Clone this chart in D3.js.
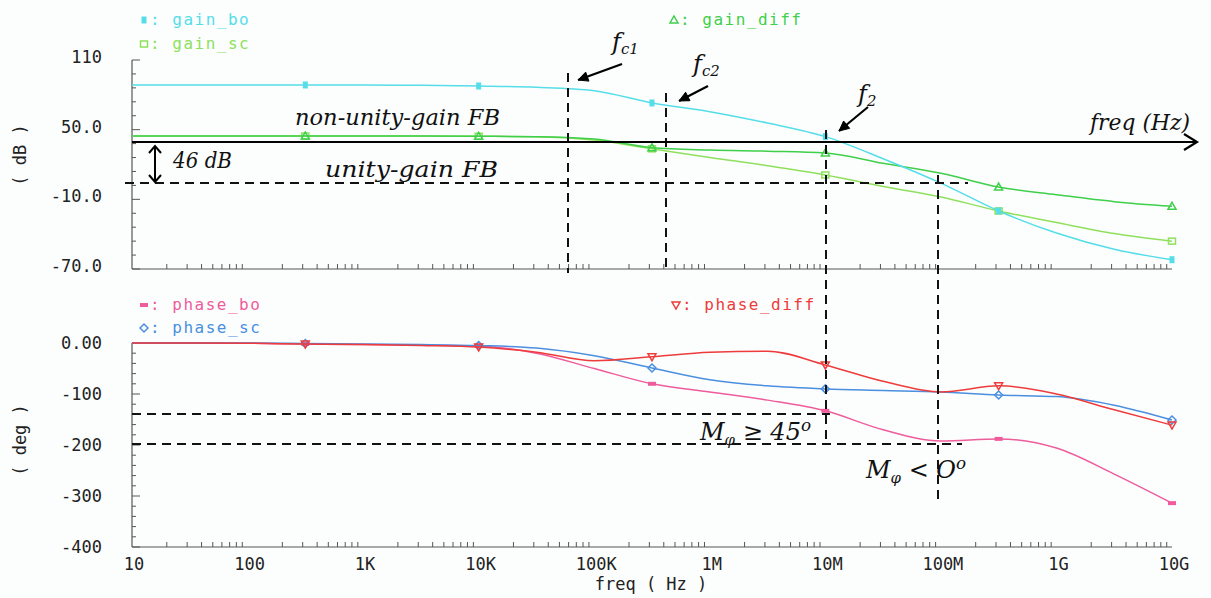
<!DOCTYPE html>
<html><head><meta charset="utf-8">
<script src="https://cdn.jsdelivr.net/npm/d3@7"></script>
<style>
html,body{margin:0;padding:0;background:#fcfefe;}
svg{display:block;}
.tick-lab{font-family:"DejaVu Sans Mono",monospace;font-size:17px;fill:#222;}
.leg{font-family:"DejaVu Sans Mono",monospace;font-size:16px;letter-spacing:1.5px;}
.ann{font-family:"DejaVu Serif",serif;font-style:italic;fill:#111;}
</style></head>
<body>
<svg id="c" width="1211" height="598"></svg>
<script>
// ---- data ----
const freq = [1e1, 3.16e1, 1e2, 3.16e2, 1e3, 3.16e3, 1e4, 3.16e4, 1e5, 3.16e5, 1e6, 3.16e6, 1e7, 3.16e7, 1e8, 3.16e8, 1e9, 3.16e9, 1e10];
const gainBo   = [88.5, 88.5, 88.5, 88.5, 88.4, 88.2, 87.6, 86.5, 83.6, 73, 65.5, 55.7, 44, 25, 4, -20, -39, -53, -62];
const gainSc   = [44.5, 44.5, 44.5, 44.5, 44.5, 44.5, 44.3, 44, 41, 33.5, 26, 19, 11, 1, -8, -20, -30, -39.5, -46];
const gainDiff = [44.5, 44.5, 44.5, 44.5, 44.5, 44.5, 44.3, 44, 42, 34.5, 32.5, 31.5, 30, 21, 12.5, 0.6, -6, -12, -16];
const phaseBo   = [0, 0, -0.5, -2, -3, -4, -6, -20, -50, -80, -96, -112, -133, -170, -192, -188, -206, -257, -314];
const phaseSc   = [0, 0, 0, -1, -2, -3, -5, -10, -25, -49, -72, -84, -90, -93, -96, -102, -105, -122, -151];
const phaseDiff = [0, 0, -0.5, -2, -3, -5, -8, -18, -35, -27, -18, -16, -43, -75, -96, -84, -100, -131, -161];
const markerIdx = [3, 6, 9, 12, 15, 18];
const xTickLabels = ["10", "100", "1K", "10K", "100K", "1M", "10M", "100M", "1G", "10G"];
const gainTicks = [110, 50, -10, -70];
const gainTickLabels = ["110", "50.0", "-10.0", "-70.0"];
const phaseTicks = [0, -100, -200, -300, -400];
const phaseTickLabels = ["0.00", "-100", "-200", "-300", "-400"];

const svg = d3.select("#c");
const x = d3.scaleLog().domain([10, 1e10]).range([132, 1172]);
const yG = d3.scaleLinear().domain([-70, 110]).range([269, 60]);
const yP = d3.scaleLinear().domain([-400, 0]).range([547, 343]);
const axisCol = "#555";

function frame(y, ticks, labels, minorStep, dom, labOff) {
  svg.append("line").attr("x1", 132).attr("x2", 132).attr("y1", y(dom[1])).attr("y2", y(dom[0]))
     .attr("stroke", axisCol).attr("stroke-width", 1.2);
  svg.append("line").attr("x1", 132).attr("x2", 1172).attr("y1", y(dom[0])).attr("y2", y(dom[0]))
     .attr("stroke", axisCol).attr("stroke-width", 1.2);
  for (let v = dom[0]; v <= dom[1] + 1e-6; v += minorStep) {
    const major = ticks.some(t => Math.abs(t - v) < 1e-6);
    svg.append("line").attr("x1", 132).attr("x2", 132 + (major ? 8 : 4))
       .attr("y1", y(v)).attr("y2", y(v)).attr("stroke", axisCol).attr("stroke-width", 1);
  }
  ticks.forEach((t, i) => {
    svg.append("text").attr("class", "tick-lab").attr("x", 102).attr("y", y(t) + labOff)
       .attr("text-anchor", "end").attr("dominant-baseline", "middle").text(labels[i]);
  });
  const yb = y(dom[0]);
  for (let d = 1; d <= 10; d++) {
    for (let m = 2; m <= 9; m++) {
      const f = m * Math.pow(10, d);
      if (f > 1e10) break;
      svg.append("line").attr("x1", x(f)).attr("x2", x(f)).attr("y1", yb).attr("y2", yb - 5)
         .attr("stroke", axisCol).attr("stroke-width", 1);
    }
  }
}
frame(yG, gainTicks, gainTickLabels, 12, [-70, 110], -2);
frame(yP, phaseTicks, phaseTickLabels, 20, [-400, 0], 1);

xTickLabels.forEach((l, i) => {
  svg.append("text").attr("class", "tick-lab").attr("x", x(Math.pow(10, i + 1)) + 2).attr("y", 570)
     .attr("text-anchor", "middle").text(l);
});
svg.append("text").attr("class", "tick-lab").attr("x", 651).attr("y", 590).attr("text-anchor", "middle").text("freq ( Hz )");
svg.append("text").attr("class", "tick-lab").attr("transform", "translate(26,155) rotate(-90)")
   .attr("text-anchor", "middle").text("( dB )");
svg.append("text").attr("class", "tick-lab").attr("transform", "translate(26,440) rotate(-90)")
   .attr("text-anchor", "middle").text("( deg )");

const dash = "9,6";
function dl(x1, y1, x2, y2) {
  svg.append("line").attr("x1", x1).attr("y1", y1).attr("x2", x2).attr("y2", y2)
     .attr("stroke", "#111").attr("stroke-width", 2).attr("stroke-dasharray", dash);
}

const colors = { bo: "#55dde8", sc: "#8fe05c", diff: "#3fcf4a", pbo: "#ee5c9c", psc: "#4a8fe0", pdiff: "#ee3b3b" };
function series(vals, y, col, shape) {
  const pts = freq.map((f, i) => [x(f), y(vals[i])]);
  svg.append("path").attr("d", d3.line().curve(d3.curveMonotoneX)(pts))
     .attr("fill", "none").attr("stroke", col).attr("stroke-width", 1.5);
  markerIdx.forEach(i => drawMarker(pts[i][0], pts[i][1], col, shape));
}
function drawMarker(cx, cy, col, shape) {
  const g = svg.append("g").attr("transform", `translate(${cx},${cy})`);
  if (shape === "fsquare") g.append("rect").attr("x", -2.5).attr("y", -3.5).attr("width", 5).attr("height", 7).attr("fill", col);
  else if (shape === "square") g.append("rect").attr("x", -3.5).attr("y", -3).attr("width", 7).attr("height", 6).attr("fill", "none").attr("stroke", col).attr("stroke-width", 1.5);
  else if (shape === "tri") g.append("path").attr("d", "M0,-4L4,3L-4,3Z").attr("fill", "none").attr("stroke", col).attr("stroke-width", 1.5);
  else if (shape === "dtri") g.append("path").attr("d", "M-4,-3L4,-3L0,4Z").attr("fill", "none").attr("stroke", col).attr("stroke-width", 1.5);
  else if (shape === "bar") g.append("rect").attr("x", -4).attr("y", -2).attr("width", 8).attr("height", 4).attr("fill", col);
  else if (shape === "diamond") g.append("path").attr("d", "M0,-4L4,0L0,4L-4,0Z").attr("fill", "none").attr("stroke", col).attr("stroke-width", 1.5);
}
series(gainSc, yG, colors.sc, "square");
series(gainDiff, yG, colors.diff, "tri");
series(gainBo, yG, colors.bo, "fsquare");
series(phaseBo, yP, colors.pbo, "bar");
series(phaseSc, yP, colors.psc, "diamond");
series(phaseDiff, yP, colors.pdiff, "dtri");

function legend(lx, ly, col, shape, label) {
  drawMarker(lx + 4, ly - 5, col, shape);
  svg.append("text").attr("class", "leg").attr("x", lx + 10).attr("y", ly).attr("fill", col).text(": " + label);
}
legend(140, 25, colors.bo, "fsquare", "gain_bo");
legend(140, 49, colors.sc, "square", "gain_sc");
legend(670, 25, colors.diff, "tri", "gain_diff");
legend(140, 310, colors.pbo, "bar", "phase_bo");
legend(140, 333, colors.psc, "diamond", "phase_sc");
legend(672, 310, colors.pdiff, "dtri", "phase_diff");

dl(125, 183, 968, 183);
dl(568, 73, 568, 273);
dl(666, 93, 666, 273);
dl(826, 130, 826, 440);
dl(938, 175, 938, 505);
dl(132, 414, 830, 414);
dl(132, 444, 962, 444);

svg.append("line").attr("x1", 132).attr("y1", 142).attr("x2", 1196).attr("y2", 142).attr("stroke", "#000").attr("stroke-width", 2.2);
svg.append("path").attr("d", "M1184,134L1197,142L1184,150").attr("fill", "none").attr("stroke", "#000").attr("stroke-width", 2.2);
svg.append("line").attr("x1", 155).attr("y1", 146).attr("x2", 155).attr("y2", 182).attr("stroke", "#000").attr("stroke-width", 2);
svg.append("path").attr("d", "M149,153L155,146L161,153M149,175L155,182L161,175").attr("fill", "none").attr("stroke", "#000").attr("stroke-width", 2);

function arrow(x1, y1, x2, y2) {
  svg.append("line").attr("x1", x1).attr("y1", y1).attr("x2", x2).attr("y2", y2).attr("stroke", "#000").attr("stroke-width", 2.2);
  const a = Math.atan2(y2 - y1, x2 - x1), L = 11;
  const p1 = [x2 - L * Math.cos(a - 0.45), y2 - L * Math.sin(a - 0.45)];
  const p2 = [x2 - L * Math.cos(a + 0.45), y2 - L * Math.sin(a + 0.45)];
  svg.append("path").attr("d", `M${p1}L${x2},${y2}L${p2}Z`).attr("fill", "#000").attr("stroke", "#000");
}
arrow(622, 64, 578, 80);
arrow(708, 86, 679, 101);
arrow(868, 107, 839, 131);

function ann(tx, ty, size, parts, width) {
  const t = svg.append("text").attr("class", "ann").attr("x", tx).attr("y", ty).attr("font-size", size);
  parts.forEach(p => {
    const s = t.append("tspan").text(p.t);
    if (p.sub) s.attr("font-size", size * 0.62).attr("dy", p.dy || 5);
    if (p.sup) s.attr("font-size", size * 0.7).attr("dy", p.dy || -9);
    if (p.reset) s.attr("dy", p.dy);
  });
  if (width) t.attr("textLength", width).attr("lengthAdjust", "spacingAndGlyphs");
  return t;
}
ann(612, 50, 24, [{t: "f"}, {t: "c1", sub: true, dy: 4}]);
ann(693, 72, 24, [{t: "f"}, {t: "c2", sub: true, dy: 4}]);
ann(858, 102, 24, [{t: "f"}, {t: "2", sub: true, dy: 4}]);
ann(1090, 130, 22, [{t: "freq (Hz)"}], 100);
ann(295, 125, 22, [{t: "non-unity-gain FB"}], 205);
ann(325, 177, 22, [{t: "unity-gain FB"}], 173);
ann(173, 168, 22, [{t: "46 dB"}], 59);
ann(700, 440, 24, [{t: "M"}, {t: "φ", sub: true, dy: 5}, {t: " ≥ 45", reset: true, dy: -5}, {t: "o", sup: true, dy: -9}]);
ann(866, 478, 24, [{t: "M"}, {t: "φ", sub: true, dy: 5}, {t: " < O", reset: true, dy: -5}, {t: "o", sup: true, dy: -9}]);
</script>
</body></html>
